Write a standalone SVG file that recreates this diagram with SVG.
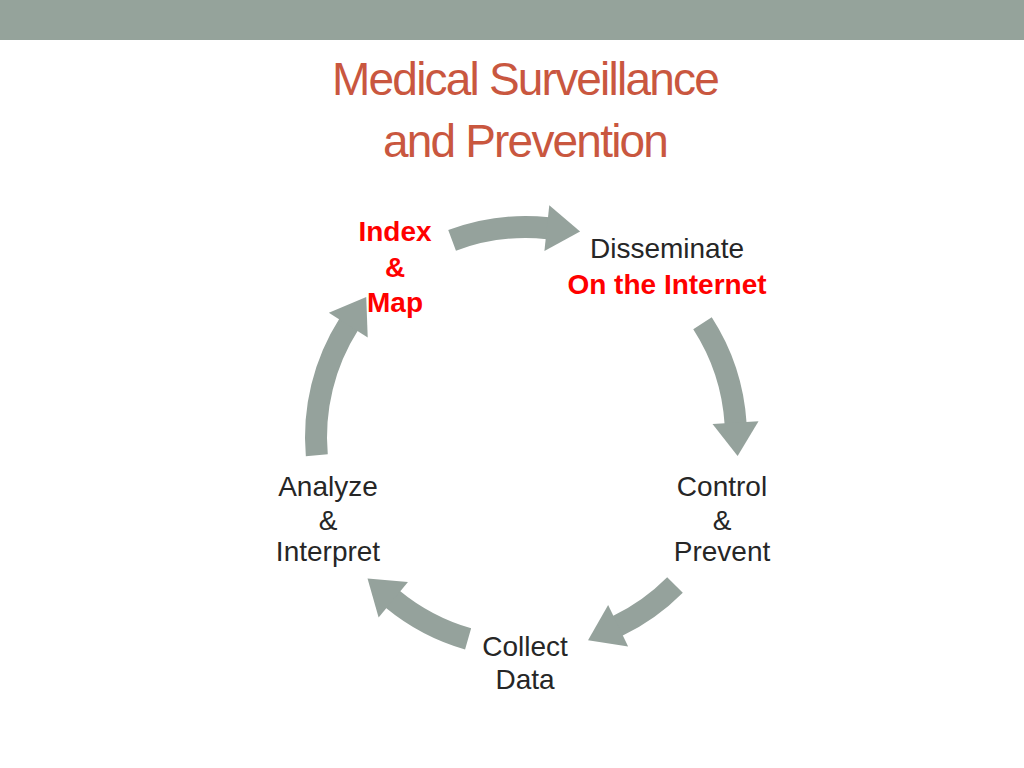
<svg xmlns="http://www.w3.org/2000/svg" width="1024" height="768" viewBox="0 0 1024 768">
<style>
.t{font-family:"Liberation Sans",Arial,sans-serif;font-size:28px;fill:#262626;text-anchor:middle}
.r{fill:#ff0000;font-weight:bold}
.title{font-family:"Liberation Sans",Arial,sans-serif;font-size:46px;fill:#c9573f;text-anchor:middle;letter-spacing:-1.8px}
.arc{fill:none;stroke:#95a29c;stroke-width:22;marker-end:url(#h)}
</style>
<defs>
<marker id="h" markerUnits="strokeWidth" markerWidth="2" markerHeight="2.2" viewBox="-0.05 -1.05 1.5 2.1" refX="0" refY="0" orient="auto">
<path d="M-0.05,-1 L1.4,0 L-0.05,1 Z" fill="#95a29c"/>
</marker>
</defs>
<rect x="0" y="0" width="1024" height="40" fill="#95a39b"/>
<g id="title">
<text class="title" x="525" y="95">Medical Surveillance</text>
<text class="title" x="525" y="157">and Prevention</text>
</g>
<g id="connectors">
<path class="arc" d="M452.1,240.4 A210,210 0 0 1 548,228.2"/>
<path class="arc" d="M702.5,323.2 A210,210 0 0 1 735.6,423.8"/>
<path class="arc" d="M675,585 A210,210 0 0 1 617.1,626.2"/>
<path class="arc" d="M468.1,638.9 A210,210 0 0 1 392.4,599"/>
<path class="arc" d="M316.8,455.3 A210,210 0 0 1 348.9,324.2"/>
</g>
<g id="index"><text class="t r" x="395" y="241">Index</text><text class="t r" x="395" y="277">&amp;</text><text class="t r" x="395" y="312">Map</text></g>
<g id="disseminate"><text class="t" x="667" y="258">Disseminate</text><text class="t r" x="667" y="294">On the Internet</text></g>
<g id="control"><text class="t" x="722" y="496">Control</text><text class="t" x="722" y="530">&amp;</text><text class="t" x="722" y="561">Prevent</text></g>
<g id="collect"><text class="t" x="525" y="656">Collect</text><text class="t" x="525" y="689">Data</text></g>
<g id="analyze"><text class="t" x="328" y="496">Analyze</text><text class="t" x="328" y="530">&amp;</text><text class="t" x="328" y="561">Interpret</text></g>
</svg>
